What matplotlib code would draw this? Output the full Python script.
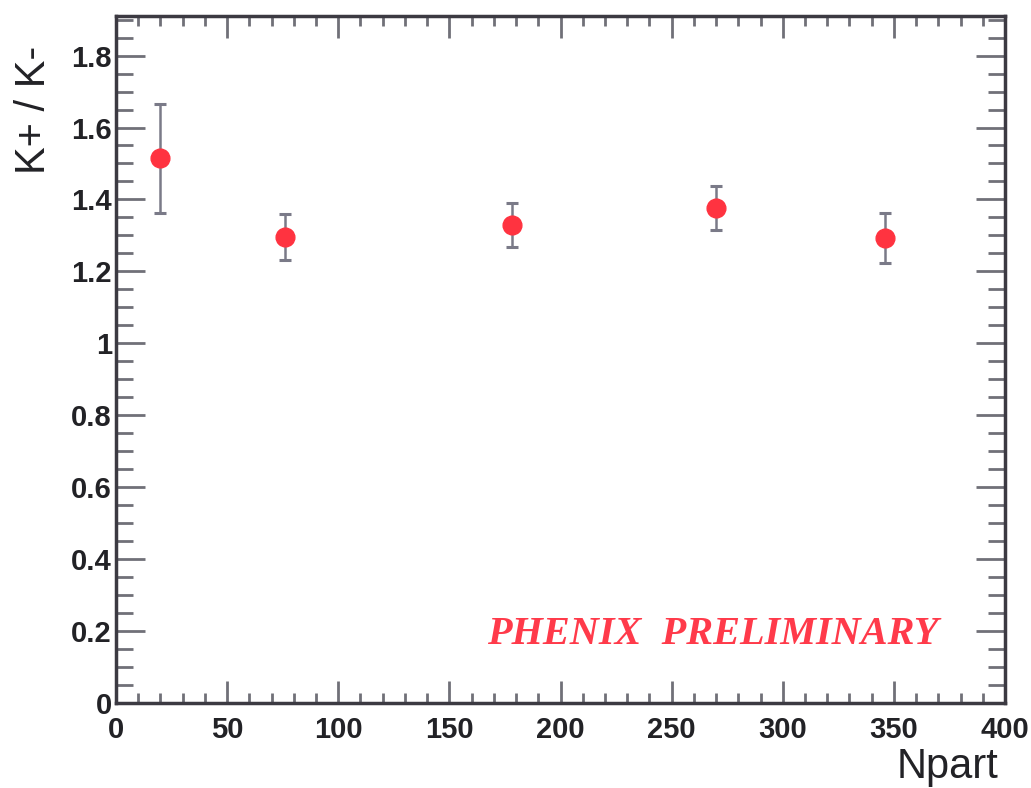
import matplotlib
matplotlib.use("Agg")
import matplotlib.pyplot as plt
from matplotlib.ticker import MultipleLocator

npart = [20, 76, 178, 270, 346]
ratio = [1.514, 1.295, 1.330, 1.376, 1.292]
err = [0.152, 0.064, 0.061, 0.060, 0.070]

x_label = "Npart"
y_label = "K+ / K-"
watermark = "PHENIX  PRELIMINARY"

fig = plt.figure(figsize=(10.31, 7.88), dpi=100)
ax = fig.add_axes([116/1031, 1-703/788, (1005-116)/1031, (703-16)/788])

ax.errorbar(npart, ratio, yerr=err, fmt='o', color='#ff3340', markersize=13.5,
            ecolor='#7a7a88', elinewidth=1.8, capsize=4.5, capthick=2.2, zorder=3)

ax.set_xlim(0, 400)
ax.set_ylim(0, 1.91)

ax.xaxis.set_major_locator(MultipleLocator(50))
ax.xaxis.set_minor_locator(MultipleLocator(10))
ax.yaxis.set_major_locator(MultipleLocator(0.2))
ax.yaxis.set_minor_locator(MultipleLocator(0.05))

def fmt(v, pos):
    s = f"{v:.1f}"
    if s.endswith(".0"):
        s = s[:-2]
    return s
ax.yaxis.set_major_formatter(plt.FuncFormatter(fmt))

for sp in ax.spines.values():
    sp.set_color('#3c3a42')
    sp.set_linewidth(2.5)

tick_col = '#707078'
ax.tick_params(axis='x', which='major', direction='in', length=16, width=2,
               color=tick_col, top=True, labelsize=21, pad=9)
ax.tick_params(axis='x', which='minor', direction='in', length=7, width=2,
               color=tick_col, top=True)
ax.tick_params(axis='y', which='major', direction='in', length=21, width=2,
               color=tick_col, right=True, labelsize=21, pad=3)
ax.tick_params(axis='y', which='minor', direction='in', length=12, width=2,
               color=tick_col, right=True)

for lab in ax.get_xticklabels() + ax.get_yticklabels():
    lab.set_fontfamily('Liberation Sans')
    lab.set_fontweight('bold')
    lab.set_color('#222226')

fig.text(947/1031, 1-767/788, x_label, ha='center', va='center',
         fontsize=30, family='Liberation Sans', color='#222226')
fig.text(34/1031, 1-110/788, y_label, ha='center', va='center', rotation=90,
         fontsize=30, family='Liberation Sans', color='#222226')

ax.text(268.6, 0.19, watermark, ha='center', va='center', fontsize=29,
        family='Liberation Serif', style='italic', fontweight='bold',
        color='#ff3a4a')

fig.savefig("out.png", dpi=100)
